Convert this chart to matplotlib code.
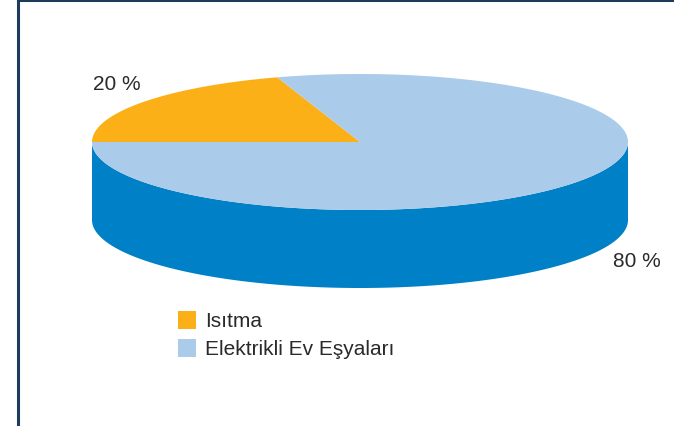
import numpy as np
import matplotlib.pyplot as plt
from matplotlib.patches import Polygon, Rectangle

# data
labels = ['Isıtma', 'Elektrikli Ev Eşyaları']
values = [20, 80]
pct_labels = ['20 %', '80 %']
colors = ['#FBB017', '#ABCBEA']
side_color = '#0080C6'
frame_color = '#1F3B5C'

plt.rcParams['font.family'] = ['Liberation Sans', 'DejaVu Sans']

fig = plt.figure(figsize=(6.74, 4.27), dpi=100)
ax = fig.add_axes([0, 0, 1, 1])
ax.set_xlim(0, 674)
ax.set_ylim(427, 0)
ax.axis('off')

# pie geometry in pixels
cx, cy = 360, 143
rx, ry = 268, 68
depth = 78


def ell(t, yc):
    return cx + rx * np.cos(t), yc - ry * np.sin(t)


# side wall (front half only)
t = np.linspace(np.pi, 2 * np.pi, 200)
x1, y1 = ell(t, cy)
x2, y2 = ell(t[::-1], cy + depth)
side = Polygon(np.column_stack([np.r_[x1, x2], np.r_[y1, y2]]),
               closed=True, fc=side_color, ec='none')
ax.add_patch(side)

# top wedges, starting at the left and going clockwise
start = np.pi
total = sum(values)
for v, c in zip(values, colors):
    end = start - 2 * np.pi * v / total
    tt = np.linspace(start, end, 300)
    xs, ys = ell(tt, cy)
    pts = np.column_stack([np.r_[cx, xs], np.r_[cy, ys]])
    ax.add_patch(Polygon(pts, closed=True, fc=c, ec='none'))
    start = end

txt_color = '#2a2a2a'
ax.text(117, 84, pct_labels[0], fontsize=15, color=txt_color,
        ha='center', va='center')
ax.text(637, 262, pct_labels[1], fontsize=15, color=txt_color,
        ha='center', va='center')

# legend
for i, (lab, c) in enumerate(zip(labels, colors)):
    y0 = 312 + i * 28
    ax.add_patch(Rectangle((178, y0), 18, 18, fc=c, ec='none'))
    ax.text(205, y0 + 9.5, lab, fontsize=15, color=txt_color, va='center')

# frame: top and left edges
ax.plot([18, 674], [1, 1], color=frame_color, lw=2.2, solid_capstyle='butt')
ax.plot([18, 18], [0, 427], color=frame_color, lw=2.2, solid_capstyle='butt')

fig.savefig('out.png', dpi=100)
